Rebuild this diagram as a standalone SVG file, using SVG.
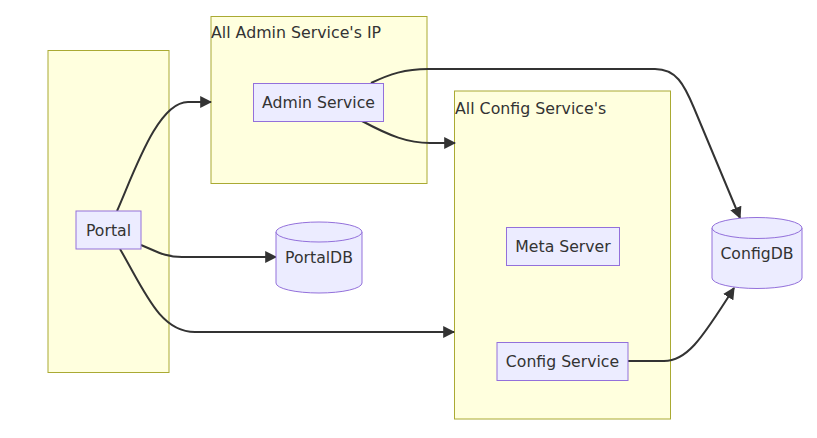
<svg xmlns="http://www.w3.org/2000/svg" width="817" height="438" viewBox="0 0 817 438">
<style>
.cluster{fill:#ffffde;stroke:#aaaa33;stroke-width:1}
.node{fill:#ECECFF;stroke:#9370DB;stroke-width:1}
.lbl{font-family:"DejaVu Sans","Liberation Sans",sans-serif;font-size:15.7px;fill:#333}
.ctitle{font-family:"DejaVu Sans","Liberation Sans",sans-serif;font-size:15.8px;fill:#333}
.edge{fill:none;stroke:#333;stroke-width:2}
</style>
<defs>
<marker id="arrow" viewBox="0 0 10 10" refX="9" refY="5" markerWidth="12" markerHeight="12" markerUnits="userSpaceOnUse" orient="auto">
<path d="M0,0 L10,5 L0,10 z" fill="#333"/>
</marker>
</defs>
<rect width="817" height="438" fill="#ffffff"/>
<g id="cluster-portal"><rect class="cluster" x="48" y="50.5" width="121" height="322"/></g>
<g id="cluster-admin"><rect class="cluster" x="211" y="16.5" width="216" height="167"/>
<text class="ctitle" x="211" y="38">All Admin Service's IP</text></g>
<g id="cluster-config"><rect class="cluster" x="454.5" y="91" width="216" height="328"/>
<text class="ctitle" x="455" y="114">All Config Service's</text></g>
<g id="connectors">
<path class="edge" marker-end="url(#arrow)" d="M117,211 C135,170 158,102 188,102 L211,102"/>
<path class="edge" marker-end="url(#arrow)" d="M141,245 C158,252 165,257 182,257 L276,257"/>
<path class="edge" marker-end="url(#arrow)" d="M120,249 C145,292 160,332 195,332 L454,332"/>
<path class="edge" marker-end="url(#arrow)" d="M362,121 C390,136 408,143 430,143 L455,143"/>
<path class="edge" marker-end="url(#arrow)" d="M371,83 C390,74 405,69 428,69 L655,69 C676,69 684,84 694,108 L740,218"/>
<path class="edge" marker-end="url(#arrow)" d="M628,361 L664,361 C686,361 700,342 734,288"/>
</g>
<g id="node-portal"><rect class="node" x="76" y="211" width="65" height="38"/>
<text class="lbl" x="108.5" y="235.5" text-anchor="middle">Portal</text></g>
<g id="node-admin"><rect class="node" x="253.5" y="83.5" width="130" height="38"/>
<text class="lbl" x="318.5" y="108" text-anchor="middle">Admin Service</text></g>
<g id="node-meta"><rect class="node" x="506.5" y="227.5" width="113" height="38"/>
<text class="lbl" x="563" y="252" text-anchor="middle">Meta Server</text></g>
<g id="node-config"><rect class="node" x="497" y="342.5" width="131" height="38"/>
<text class="lbl" x="562.5" y="367" text-anchor="middle">Config Service</text></g>
<g id="node-portaldb">
<path class="node" d="M276,232 a43,10 0 0 1 86,0 L362,283 a43,10 0 0 1 -86,0 Z"/>
<path class="node" d="M276,232 a43,10 0 0 0 86,0" fill="none"/>
<text class="lbl" x="319" y="263" text-anchor="middle">PortalDB</text></g>
<g id="node-configdb">
<path class="node" d="M712,228 a45,10.5 0 0 1 90,0 L802,278 a45,10.5 0 0 1 -90,0 Z"/>
<path class="node" d="M712,228 a45,10.5 0 0 0 90,0" fill="none"/>
<text class="lbl" x="757" y="259" text-anchor="middle">ConfigDB</text></g>
</svg>
